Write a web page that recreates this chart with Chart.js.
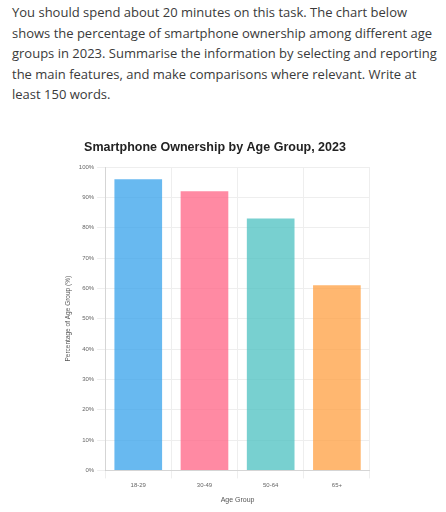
<!DOCTYPE html>
<html><head><meta charset="utf-8">
<script src="https://cdn.jsdelivr.net/npm/chart.js@4"></script>
<style>
body{margin:0;background:#fff;font-family:"Open Sans",sans-serif;}
#txt{position:absolute;left:12px;top:2px;width:434px;font-size:13px;line-height:20.5px;color:#3a3a3a;}
#box{position:absolute;left:60px;top:134px;width:310px;height:374px;}
</style></head><body>
<div id="txt">You should spend about 20 minutes on this task. The chart below shows the percentage of smartphone ownership among different age groups in 2023. Summarise the information by selecting and reporting the main features, and make comparisons where relevant. Write at least 150 words.</div>
<div id="box"><canvas id="c"></canvas></div>
<script>
const categories=["18-29","30-49","50-64","65+"];
const ownership=[96,92,83,61];
const colors=["rgba(54,162,235,0.75)","rgba(255,99,132,0.75)","rgba(75,192,192,0.75)","rgba(255,159,64,0.75)"];
new Chart(document.getElementById('c'),{type:'bar',
data:{labels:categories,datasets:[{data:ownership,backgroundColor:colors,barPercentage:0.72,categoryPercentage:1}]},
options:{responsive:true,maintainAspectRatio:false,animation:false,
plugins:{legend:{display:false},title:{display:true,text:'Smartphone Ownership by Age Group, 2023',font:{size:12.5,weight:'bold',family:'Liberation Sans'},color:'#222',padding:{top:6,bottom:12}}},
scales:{y:{min:0,max:100,ticks:{stepSize:10,callback:v=>v+'%',font:{size:6},color:'#666'},title:{display:true,text:'Percentage of Age Group (%)',font:{size:6.5},color:'#555'},grid:{color:'#eee'}},
x:{ticks:{font:{size:6},color:'#666'},title:{display:true,text:'Age Group',font:{size:7},color:'#555'},grid:{color:'#eee'}}}}});
</script></body></html>
